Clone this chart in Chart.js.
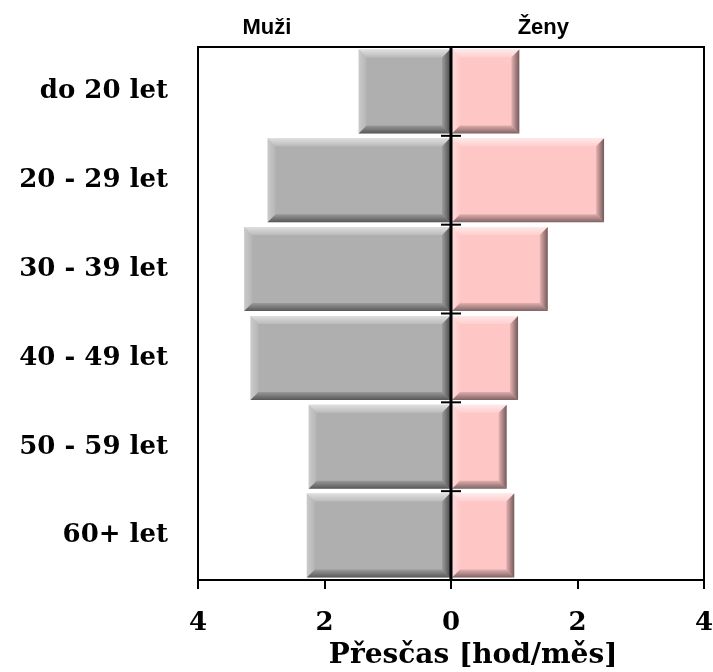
<!DOCTYPE html>
<html>
<head>
<meta charset="utf-8">
<script src="https://cdn.jsdelivr.net/npm/chart.js@4"></script>
<style>
  html, body { margin: 0; padding: 0; background: #fff; }
  #wrap { width: 713px; height: 672px; position: relative; }
</style>
</head>
<body>
<div id="wrap"><canvas id="c" width="713" height="672"></canvas></div>
<script>
const categories = ['do 20 let', '20 - 29 let', '30 - 39 let', '40 - 49 let', '50 - 59 let', '60+ let'];
const muzi = [1.46, 2.90, 3.27, 3.17, 2.25, 2.28];
const zeny = [1.08, 2.42, 1.53, 1.06, 0.88, 1.00];
const xTicks = [-4, -2, 0, 2, 4];
const seriesNames = ['Muži', 'Ženy'];
const axisTitle = 'Přesčas [hod/měs]';

const serif = '"DejaVu Serif", serif';

const bevelPlugin = {
  id: 'bevel',
  afterDatasetsDraw(chart) {
    const ctx = chart.ctx;
    chart.data.datasets.forEach((ds, di) => {
      const meta = chart.getDatasetMeta(di);
      meta.data.forEach(el => {
        const x1 = Math.min(el.x, el.base), x2 = Math.max(el.x, el.base);
        const y1 = el.y - el.height / 2, y2 = el.y + el.height / 2;
        const b = Math.min(8, (x2 - x1) / 2, (y2 - y1) / 2);
        ctx.save();
        let g = ctx.createLinearGradient(0, y1, 0, y1 + b);
        g.addColorStop(0, 'rgba(255,255,255,0.6)');
        g.addColorStop(1, 'rgba(255,255,255,0.15)');
        ctx.fillStyle = g;
        ctx.beginPath();
        ctx.moveTo(x1, y1); ctx.lineTo(x2, y1); ctx.lineTo(x2 - b, y1 + b); ctx.lineTo(x1 + b, y1 + b); ctx.closePath(); ctx.fill();
        g = ctx.createLinearGradient(x1, 0, x1 + b, 0);
        g.addColorStop(0, 'rgba(255,255,255,0.35)');
        g.addColorStop(1, 'rgba(255,255,255,0.08)');
        ctx.fillStyle = g;
        ctx.beginPath();
        ctx.moveTo(x1, y1); ctx.lineTo(x1 + b, y1 + b); ctx.lineTo(x1 + b, y2 - b); ctx.lineTo(x1, y2); ctx.closePath(); ctx.fill();
        g = ctx.createLinearGradient(0, y2 - b, 0, y2);
        g.addColorStop(0, 'rgba(0,0,0,0.12)');
        g.addColorStop(1, 'rgba(0,0,0,0.5)');
        ctx.fillStyle = g;
        ctx.beginPath();
        ctx.moveTo(x1, y2); ctx.lineTo(x1 + b, y2 - b); ctx.lineTo(x2 - b, y2 - b); ctx.lineTo(x2, y2); ctx.closePath(); ctx.fill();
        g = ctx.createLinearGradient(x2 - b, 0, x2, 0);
        g.addColorStop(0, 'rgba(0,0,0,0.1)');
        g.addColorStop(1, 'rgba(0,0,0,0.55)');
        ctx.fillStyle = g;
        ctx.beginPath();
        ctx.moveTo(x2, y1); ctx.lineTo(x2, y2); ctx.lineTo(x2 - b, y2 - b); ctx.lineTo(x2 - b, y1 + b); ctx.closePath(); ctx.fill();
        ctx.restore();
      });
    });
  }
};

const framePlugin = {
  id: 'frame',
  afterDraw(chart) {
    const ctx = chart.ctx, a = chart.chartArea;
    const xs = chart.scales.x, ys = chart.scales.y;
    ctx.save();
    ctx.strokeStyle = '#000';
    ctx.lineWidth = 2;
    ctx.beginPath();
    ctx.moveTo(a.left, a.bottom); ctx.lineTo(a.left, a.top); ctx.lineTo(a.right, a.top); ctx.lineTo(a.right, a.bottom);
    ctx.stroke();
    const x0 = xs.getPixelForValue(0);
    ctx.lineWidth = 3;
    ctx.beginPath(); ctx.moveTo(x0, a.top); ctx.lineTo(x0, a.bottom); ctx.stroke();
    ctx.lineWidth = 2;
    const step = ys.getPixelForValue(1) - ys.getPixelForValue(0);
    for (let i = 0; i < categories.length; i++) {
      const y = ys.getPixelForValue(i) - step / 2;
      ctx.beginPath(); ctx.moveTo(x0 - 10, y); ctx.lineTo(x0 + 10, y); ctx.stroke();
    }
    ctx.fillStyle = '#000';
    ctx.font = 'bold 22px "Liberation Sans", Arial, sans-serif';
    ctx.textAlign = 'center';
    ctx.textBaseline = 'alphabetic';
    ctx.fillText(seriesNames[0], xs.getPixelForValue(-2.91), 34);
    ctx.fillText(seriesNames[1], xs.getPixelForValue(1.46), 34);
    ctx.font = 'bold 28px ' + serif;
    ctx.fillText(axisTitle, xs.getPixelForValue(0.35), 663);
    ctx.restore();
  }
};

new Chart(document.getElementById('c'), {
  type: 'bar',
  data: {
    labels: categories,
    datasets: [
      { label: seriesNames[0], data: muzi.map(v => -v), backgroundColor: '#afafaf', borderWidth: 0 },
      { label: seriesNames[1], data: zeny, backgroundColor: '#ffc6c6', borderWidth: 0 }
    ]
  },
  options: {
    indexAxis: 'y',
    responsive: false,
    animation: false,
    devicePixelRatio: 1,
    layout: { padding: { top: 47, right: 9, bottom: 0, left: 0 } },
    plugins: { legend: { display: false }, tooltip: { enabled: false } },
    datasets: { bar: { barPercentage: 1, categoryPercentage: 0.945 } },
    scales: {
      x: {
        type: 'linear',
        stacked: true,
        min: -4, max: 4,
        afterBuildTicks(scale) { scale.ticks = xTicks.map(v => ({ value: v })); },
        afterFit(scale) { scale.height = 92; scale.paddingLeft = 0; scale.paddingRight = 0; },
        border: { display: true, color: '#000', width: 2 },
        grid: { drawOnChartArea: false, drawTicks: true, tickLength: 9, color: '#000', lineWidth: 2 },
        ticks: {
          color: '#000', padding: 19, maxRotation: 0,
          font: { family: serif, weight: 'bold', size: 26 },
          callback: v => String(Math.abs(v))
        },
        title: { display: false }
      },
      y: {
        stacked: true,
        afterFit(scale) { scale.width = 198; scale.paddingTop = 0; scale.paddingBottom = 0; },
        border: { display: false },
        grid: { display: false },
        ticks: { color: '#000', padding: 22, font: { family: serif, weight: 'bold', size: 26 } }
      }
    }
  },
  plugins: [bevelPlugin, framePlugin]
});
</script>
</body>
</html>
